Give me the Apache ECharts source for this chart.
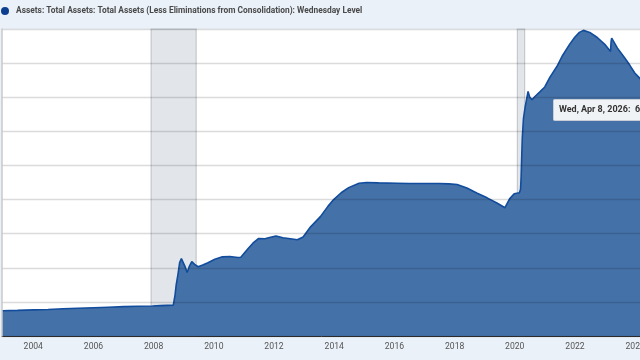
<!DOCTYPE html>
<html>
<head>
<meta charset="utf-8">
<script src="https://cdn.jsdelivr.net/npm/echarts@6/dist/echarts.min.js"></script>
<style>
html,body{margin:0;padding:0;background:#eaf1f9;}
#c{width:640px;height:360px;}
</style>
</head>
<body>
<div id="c"></div>
<script>
// Weekly observation dates (selected) and values, millions of U.S. dollars
const dates = [
'2002-12-18','2003-06-25','2004-01-07','2004-06-30','2004-12-29','2005-06-29','2006-01-04','2006-06-28',
'2007-01-03','2007-06-27','2007-12-19','2007-12-26','2008-01-09','2008-03-26','2008-08-27','2008-09-10',
'2008-09-17','2008-10-01','2008-10-22','2008-11-12','2008-12-03','2008-12-24','2009-01-14','2009-02-11',
'2009-03-11','2009-04-08','2009-05-13','2009-06-24','2009-08-19','2009-10-21','2010-01-13','2010-04-14',
'2010-07-14','2010-10-20','2010-11-24','2011-02-16','2011-04-20','2011-06-29','2011-09-14','2011-10-26',
'2012-01-25','2012-04-18','2012-07-18','2012-10-10','2012-12-19','2013-03-20','2013-07-17','2013-10-16',
'2013-12-25','2014-03-26','2014-06-25','2014-10-29','2015-01-28','2015-06-24','2016-01-27','2016-06-29',
'2017-01-25','2017-06-28','2017-10-25','2018-01-31','2018-05-30','2018-09-26','2019-01-30','2019-05-29',
'2019-09-04','2019-10-30','2019-12-25','2020-02-26','2020-03-11','2020-03-18','2020-03-25','2020-04-01',
'2020-04-15','2020-05-06','2020-06-10','2020-07-01','2020-07-29','2020-09-02','2020-10-28','2020-12-30',
'2021-03-03','2021-05-26','2021-07-28','2021-10-27','2021-12-29','2022-02-23','2022-04-13','2022-06-29',
'2022-09-28','2022-12-28','2023-03-08','2023-03-15','2023-03-22','2023-05-31','2023-08-30','2023-10-25',
'2023-12-27','2024-03-27','2024-06-26','2024-09-25','2024-12-25','2025-03-26','2025-06-25','2025-09-24',
'2025-12-31','2026-02-25','2026-04-08'
];
const assets = [
740000,750000,765000,775000,800000,815000,830000,845000,
860000,870000,880000,925000,885000,890000,905000,925000,
1200000,1500000,1800000,2150000,2270000,2250000,2050000,1860000,
2050000,2180000,2100000,2030000,2080000,2150000,2250000,2320000,
2330000,2300000,2310000,2550000,2720000,2860000,2850000,2880000,
2930000,2880000,2850000,2820000,2900000,3200000,3500000,3800000,
4000000,4200000,4350000,4480000,4500000,4490000,4480000,4470000,
4470000,4470000,4460000,4440000,4340000,4190000,4050000,3900000,
3760000,4020000,4170000,4200000,4300000,4670000,5250000,5800000,
6370000,6720000,7170000,7000000,6930000,7020000,7150000,7300000,
7590000,7900000,8200000,8550000,8760000,8900000,8960000,8900000,
8750000,8550000,8340000,8640000,8730000,8440000,8140000,7950000,
7710000,7480000,7230000,7050000,6890000,6740000,6660000,6610000,
6580000,6620000,6700000
];
// Recession periods (shaded)
const recessionStart = ['2007-12-01','2020-02-01'];
const recessionEnd   = ['2009-06-01','2020-04-30'];
// X tick labels (years)
const tickYears = [2004,2006,2008,2010,2012,2014,2016,2018,2020,2022,2024,2026];
const seriesName = 'Assets: Total Assets: Total Assets (Less Eliminations from Consolidation): Wednesday Level';
const tooltipText = 'Wed, Apr 8, 2026:  6,700,000';

function ts(s){ const p = s.split('-').map(Number); return Date.UTC(p[0], p[1]-1, p[2]); }

const chart = echarts.init(document.getElementById('c'), null, {renderer:'canvas'});
const tickValues = tickYears.map(y => Date.UTC(y,0,1));
const pts = dates.map((d,i) => [ts(d), assets[i]]);
const bands = recessionStart.map((s,i) => [{xAxis:ts(s)},{xAxis:ts(recessionEnd[i])}]);

chart.setOption({
  backgroundColor:'#eaf1f9',
  animation:false,
  textStyle:{fontFamily:'Roboto'},
  legend:{
    left:1, top:7, padding:0, icon:'circle', itemWidth:8, itemHeight:8, itemGap:10,
    data:[{name:seriesName, itemStyle:{color:'#0d3e8f'}}],
    textStyle:{fontSize:8.4, fontWeight:'bold', color:'#4a4a4a', padding:[0,0,0,2]}
  },
  grid:{left:2, top:29, width:701.4, height:307, backgroundColor:'#ffffff', show:true, borderWidth:0,
        outerBoundsMode:'none', containLabel:false},
  xAxis:{
    type:'value', min:ts(dates[0]), max:ts(dates[dates.length-1]),
    axisLine:{show:true, onZero:false, lineStyle:{color:'#333', width:1}},
    axisTick:{show:false},
    splitLine:{show:false},
    axisLabel:{customValues:tickValues, color:'#555', fontSize:8.6, margin:6,
      formatter:v => String(new Date(v).getUTCFullYear())}
  },
  yAxis:{
    type:'value', min:0, max:9000000, interval:1000000, z:10,
    axisLine:{show:true, lineStyle:{color:'#c8c8c8', width:1.5}},
    axisTick:{show:false}, axisLabel:{show:false},
    splitLine:{show:true, lineStyle:{color:'rgba(0,0,0,0.14)', width:1.3}}
  },
  series:[
    {
      name:seriesName, type:'line', data:pts, showSymbol:false, symbol:'none',
      lineStyle:{color:'#124c9c', width:1.6},
      itemStyle:{color:'#0d3e8f'},
      areaStyle:{color:'#4471a8', opacity:1},
      z:2
    },
    {
      name:'recessions', type:'line', data:[], z:6, silent:true,
      markArea:{silent:true,
        itemStyle:{color:'rgba(50,75,110,0.14)', borderColor:'rgba(80,80,80,0.25)', borderWidth:1.2},
        data:bands}
    }
  ],
  graphic:[
    {type:'rect', z:100, shape:{x:553.5, y:99.5, width:150, height:21, r:1},
      style:{fill:'rgba(250,250,250,0.95)', stroke:'#c9ced6', lineWidth:1}},
    {type:'text', z:101, x:559, y:110,
      style:{text:tooltipText, fill:'#333', font:'bold 9px Roboto', verticalAlign:'middle'}}
  ]
});
</script>
</body>
</html>
